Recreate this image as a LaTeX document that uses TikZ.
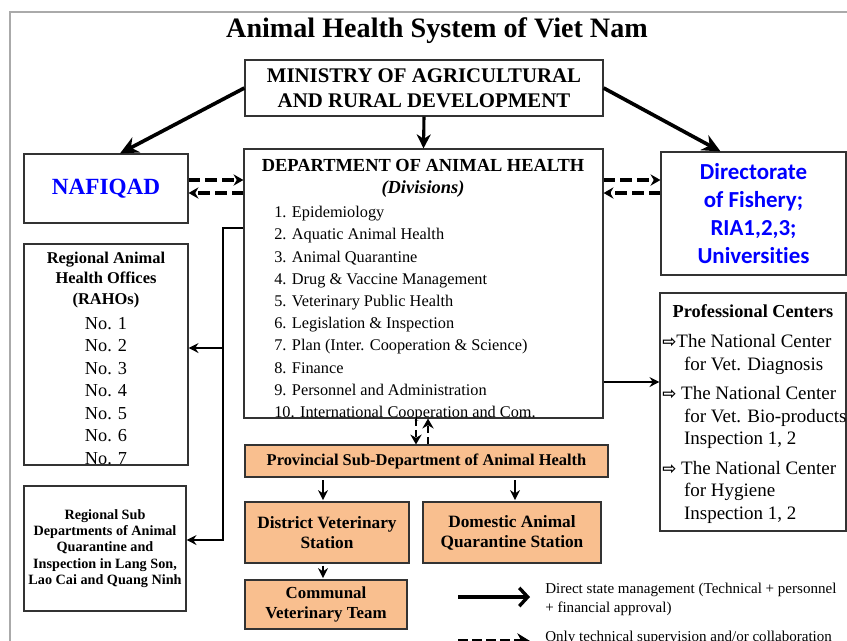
\documentclass[tikz,border=0pt]{standalone}
\usepackage{fontspec}
\setmainfont{Liberation Serif}
\newfontfamily\dirfont[Ligatures={NoCommon,NoRequired,NoContextual}]{Carlito}
\newfontfamily\arrowfont{DejaVu Sans}
\usetikzlibrary{arrows.meta,calc}
\definecolor{provorange}{RGB}{249,191,143}
\definecolor{framegray}{RGB}{170,170,170}
\newcommand{\pcarrow}{{\arrowfont\bfseries\fontsize{12}{12}\selectfont ⇨}}
\newcommand{\pcindent}{\hspace*{15.5pt}}

\begin{document}
\begin{tikzpicture}[x=0.025cm,y=-0.025cm,
	box/.style={draw=black!80,line width=0.8pt,inner sep=0pt,align=center},
	orangebox/.style={box,fill=provorange},
	plain/.style={inner sep=0pt,align=center},
	bigarrow/.style={line width=2.6pt,-{Stealth[length=13pt,width=12pt]}},
	midarrow/.style={line width=1.4pt,-{Stealth[length=7pt,width=7pt]}},
	dasharrow/.style={line width=2.3pt,dash pattern=on 8pt off 4pt,-{Stealth[length=7pt,width=8pt]}}]
\useasboundingbox (0,0) rectangle (847,640);
\draw[framegray,line width=1.2pt] (10,660) -- (10,12) -- (870,12);
% title and top level
\node[plain,font=\fontsize{20}{24}\bfseries] (title) at (437,31) {Animal Health System of Viet Nam};
\node[box,minimum width=8.95cm,minimum height=1.4cm,font=\fontsize{14.8}{17.7}\bfseries] (min) at (424,88) {MINISTRY OF AGRICULTURAL\\AND RURAL DEVELOPMENT};
\node[box,minimum width=4.1cm,minimum height=1.725cm,font=\fontsize{16.5}{20}\bfseries,text=blue] (naf) at (106,188.5) {NAFIQAD};
\node[box,minimum width=8.975cm,minimum height=6.725cm] (dah) at (423.5,283.5) {};
\node[plain,font=\fontsize{13.1}{15.6}\bfseries] (dahhead) at (423,178) {DEPARTMENT OF ANIMAL HEALTH\\\itshape(Divisions)};
\node[plain,anchor=north west,align=left,font=\fontsize{11.6}{15.8}\selectfont] (dahlist) at (274,206) {1. Epidemiology\\2. Aquatic Animal Health\\3. Animal Quarantine\\4. Drug \& Vaccine Management\\5. Veterinary Public Health\\6. Legislation \& Inspection\\7. Plan (Inter. Cooperation \& Science)\\8. Finance\\9. Personnel and Administration\\10. International Cooperation and Com.};
\node[box,minimum width=4.625cm,minimum height=3.075cm,font=\dirfont\fontsize{16.3}{20}\bfseries,text=blue] (dir) at (753.5,213.5) {Directorate\\of Fishery;\\RIA1,2,3;\\Universities};
% left column
\node[box,minimum width=4.1cm,minimum height=5.525cm] (rahos) at (106,354.5) {};
\node[plain,font=\fontsize{11.7}{14.9}\bfseries] (rahohead) at (106,280) {Regional Animal\\Health Offices\\(RAHOs)};
\node[plain,font=\fontsize{13}{16}\selectfont] (rahonums) at (106,391) {No. 1\\No. 2\\No. 3\\No. 4\\No. 5\\No. 6\\No. 7};
\node[box,minimum width=4.05cm,minimum height=3.125cm,font=\fontsize{10.1}{11.6}\bfseries] (regsub) at (105,548.5) {Regional Sub\\Departments of Animal\\Quarantine and\\Inspection in Lang Son,\\Lao Cai and Quang Ninh};
% right column
\node[box,minimum width=4.65cm,minimum height=5.95cm] (prof) at (753,412) {};
\node[plain,font=\fontsize{13}{15.6}\bfseries] (profhead) at (753,311) {Professional Centers};
\node[plain,anchor=north west,align=left,font=\fontsize{13.5}{16.2}\selectfont] (proflist) at (662,334) {\pcarrow The National Center\\\pcindent for Vet. Diagnosis\\[4.5pt]\pcarrow\ The National Center\\\pcindent for Vet. Bio-products\\\pcindent Inspection 1, 2\\[4.5pt]\pcarrow\ The National Center\\\pcindent for Hygiene\\\pcindent Inspection 1, 2};
% provincial level
\node[orangebox,minimum width=9.075cm,minimum height=0.8cm,font=\fontsize{11.7}{14}\bfseries] (prov) at (426.5,461) {Provincial Sub-Department of Animal Health};
\node[orangebox,minimum width=4.1cm,minimum height=1.525cm,font=\fontsize{12.3}{14.2}\bfseries] (district) at (327,532.5) {District Veterinary\\Station};
\node[orangebox,minimum width=4.45cm,minimum height=1.525cm,font=\fontsize{12.3}{14.2}\bfseries] (domestic) at (512,532.5) {Domestic Animal\\Quarantine Station};
\node[orangebox,minimum width=4.05cm,minimum height=1.225cm,font=\fontsize{12}{14.2}\bfseries] (communal) at (326,604.5) {Communal\\Veterinary Team};
% legend
\coordinate (solidfrom) at (458,597);
\coordinate (solidto) at (530,597);
\coordinate (dashfrom) at (458,641);
\coordinate (dashto) at (530,641);
\node[plain,anchor=west,align=left,font=\fontsize{10.7}{13.5}\selectfont] (solidtext) at (545,599) {Direct state management (Technical + personnel\\+ financial approval)};
\node[plain,anchor=west,align=left,font=\fontsize{10.7}{13.5}\selectfont] (dashtext) at (545,638) {Only technical supervision and/or collaboration};
% connectors
\draw[bigarrow] (min.west) -- ($(naf.north)+(14,0)$);
\draw[bigarrow] (min.east) -- ($(dir.north)+(-33,0)$);
\draw[bigarrow,line width=2.2pt,-{Stealth[length=10pt,width=10pt]}] (min.south) -- (dah.north);
\draw[dasharrow] (naf.east |- 0,180) -- (dah.west |- 0,180);
\draw[dasharrow] (dah.west |- 0,193) -- (naf.east |- 0,193);
\draw[dasharrow] (dah.east |- 0,180) -- (dir.west |- 0,180);
\draw[dasharrow] (dir.west |- 0,193) -- (dah.east |- 0,193);
\coordinate (trunk) at (223,228);
\draw[midarrow,line width=1.3pt] (dah.west |- trunk) -- (trunk) -- (trunk |- 0,540) -- (regsub.east |- 0,540);
\draw[midarrow,line width=1.3pt] (trunk |- 0,348) -- (rahos.east |- 0,348);
\draw[midarrow,line width=1.1pt] (dah.east |- 0,382) -- (prof.west |- 0,382);
\draw[dasharrow,line width=1.8pt,dash pattern=on 5pt off 3pt] (dah.south -| 416,0) -- (prov.north -| 416,0);
\draw[dasharrow,line width=1.8pt,dash pattern=on 5pt off 3pt] (prov.north -| 428,0) -- (dah.south -| 428,0);
\draw[midarrow,shorten <=2pt,shorten >=1pt] (prov.south -| 323,0) -- (district.north -| 323,0);
\draw[midarrow,shorten <=2pt,shorten >=1pt] (prov.south -| 515,0) -- (domestic.north -| 515,0);
\draw[midarrow,shorten <=1.5pt,shorten >=1pt] (district.south -| 323,0) -- (communal.north -| 323,0);
\draw[line width=2.4pt,-{Straight Barb[length=6pt,width=13pt]}] (solidfrom) -- (solidto);
\draw[line width=2.4pt,dash pattern=on 7pt off 3pt,-{Stealth[length=9pt,width=11pt]}] (dashfrom) -- (dashto);
\end{tikzpicture}
\end{document}
